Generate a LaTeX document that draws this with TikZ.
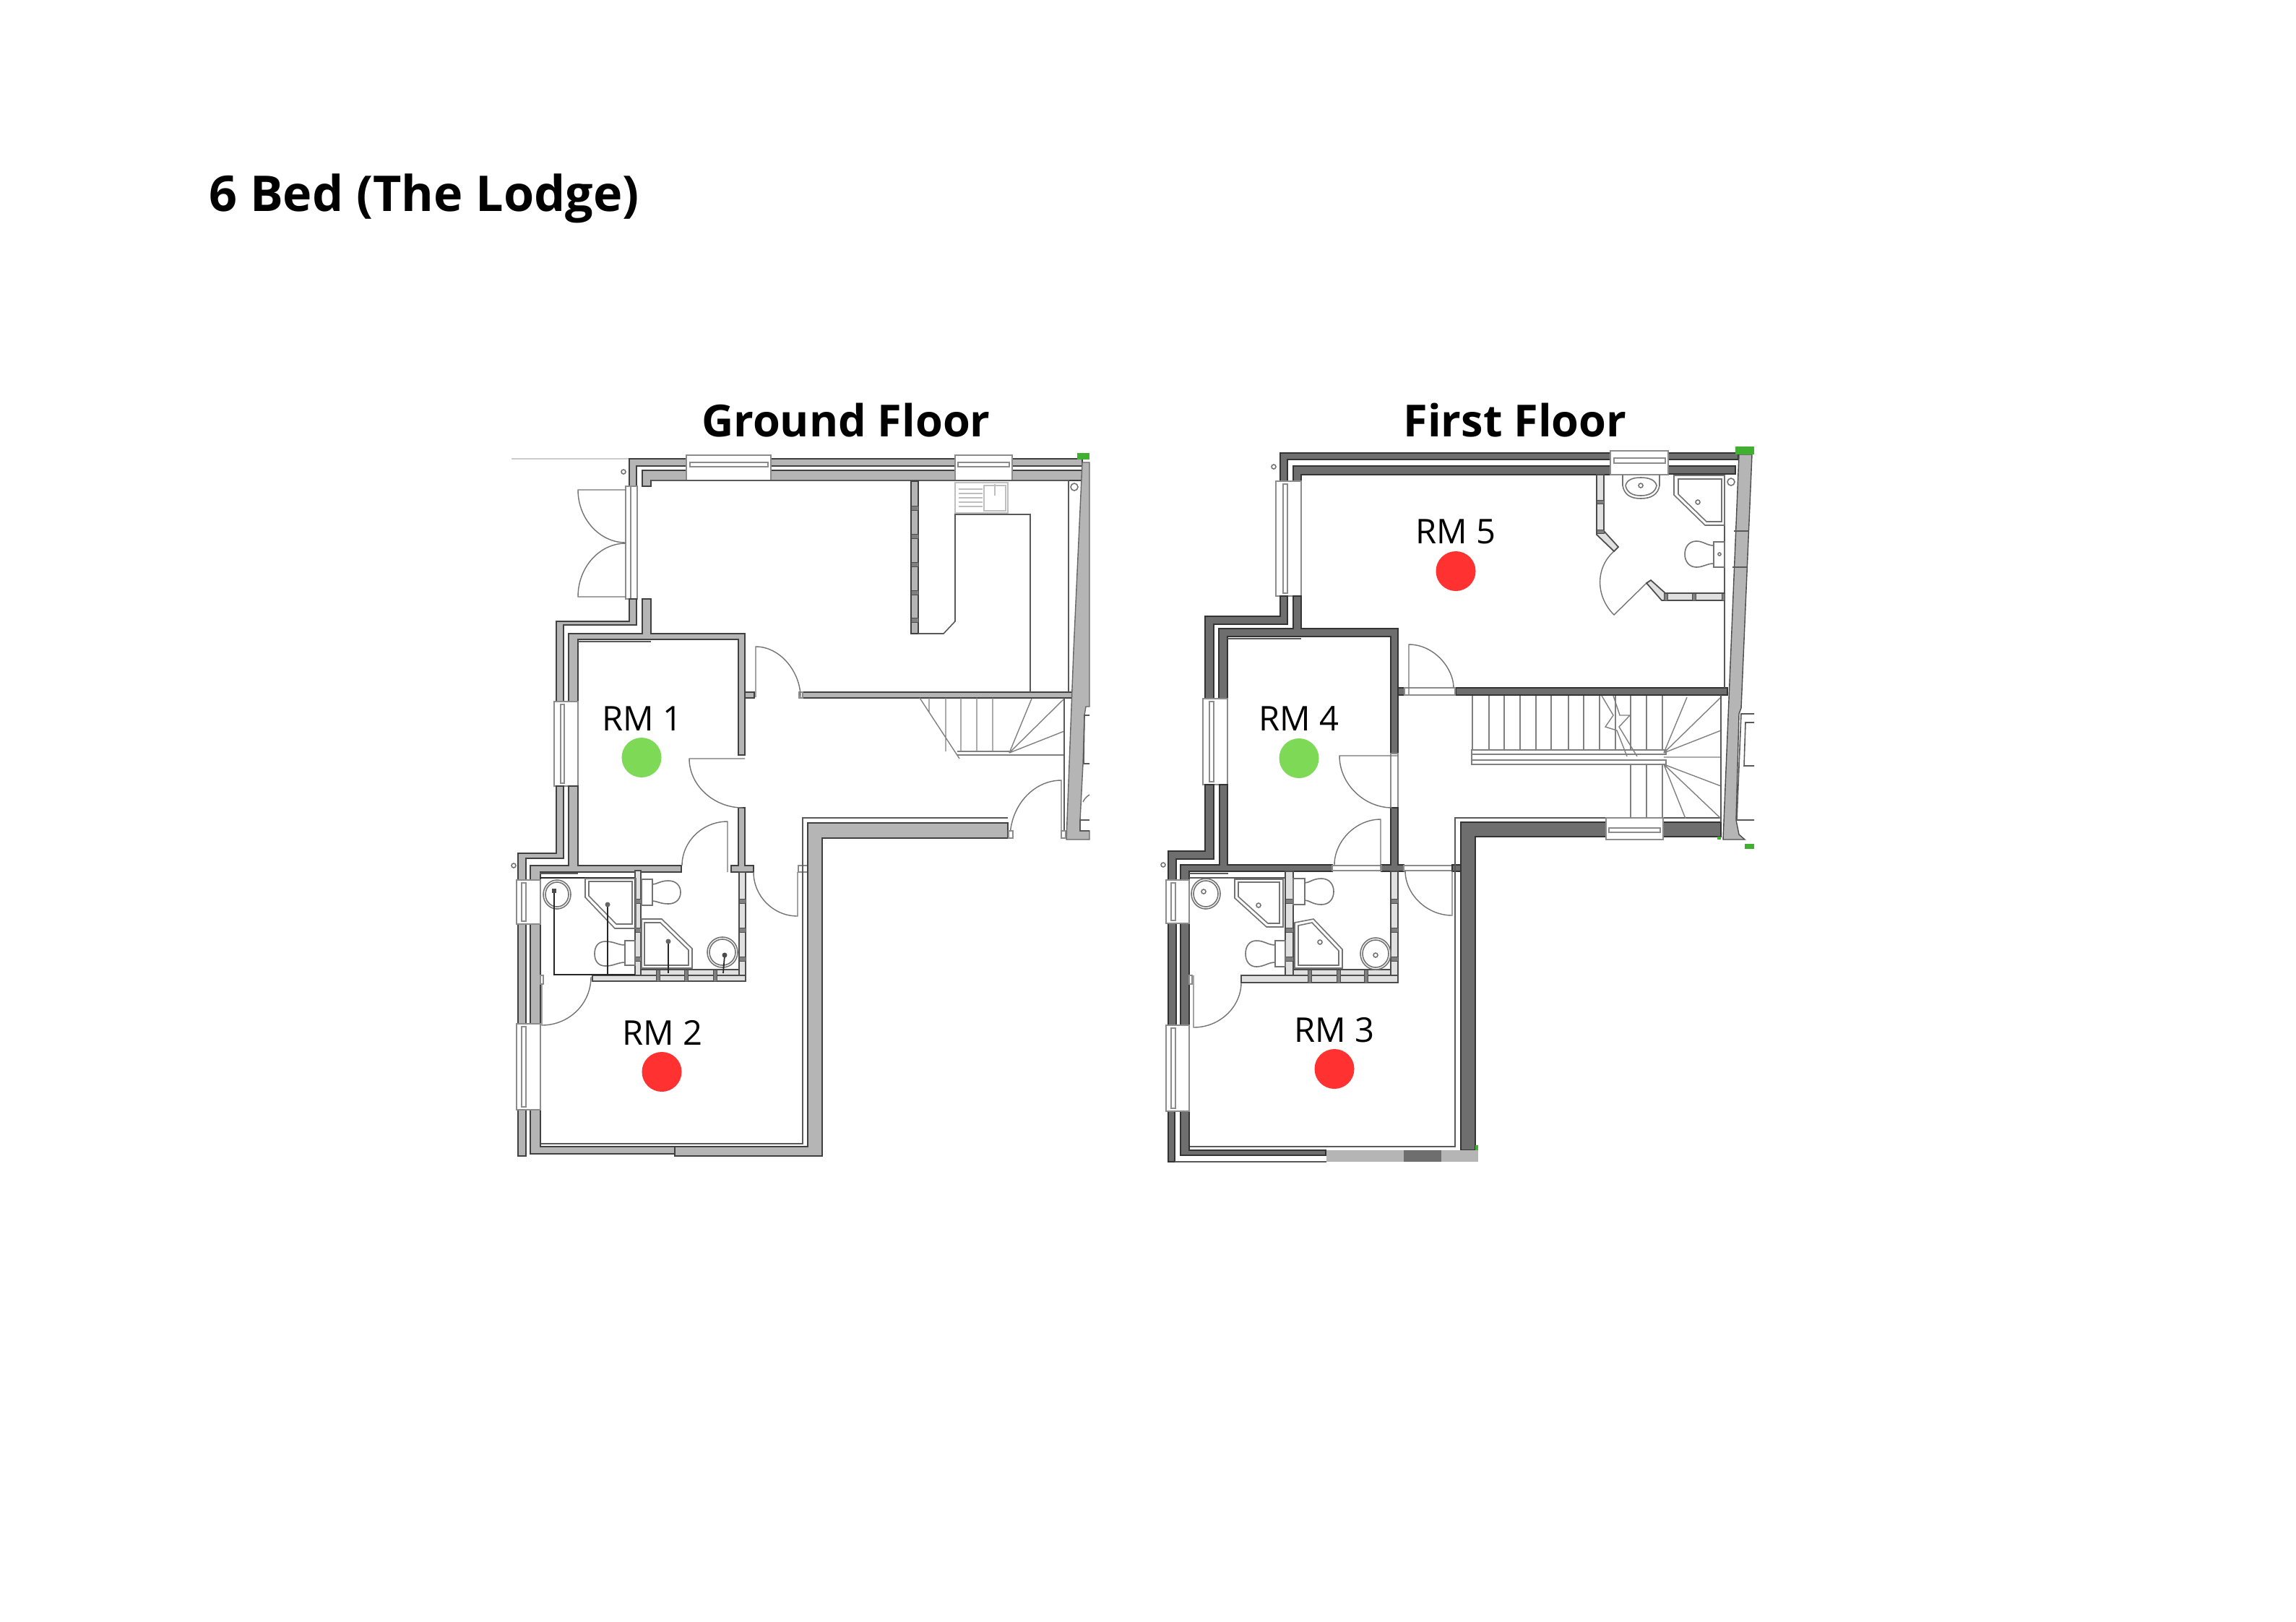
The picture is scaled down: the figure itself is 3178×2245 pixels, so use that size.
\documentclass[tikz,border=0pt]{standalone}
\usepackage{fontspec}
\setmainfont{Open Sans}
\definecolor{lightwall}{HTML}{B5B5B5}
\definecolor{darkwall}{HTML}{6E6E6E}
\definecolor{greendot}{HTML}{7ED957}
\definecolor{reddot}{HTML}{FF3131}
\definecolor{edgegreen}{HTML}{3FB02F}
\begin{document}
\begin{tikzpicture}[x=0.01cm,y=-0.01cm,
  lwall/.style={fill=lightwall,draw=black!75,line width=0.5pt},
  dwall/.style={fill=darkwall,draw=black!80,line width=0.5pt},
  plainfill/.style={fill=lightwall,draw=none},
  glaze/.style={fill=white,draw=black!45,line width=0.4pt},
  door/.style={draw=black!55,line width=0.4pt},
  thin wall/.style={draw=black!65,line width=0.45pt},
  fixture/.style={draw=black!55,line width=0.45pt},
  partition/.style={fill=black!12,draw=black!70,line width=0.5pt},
  stud/.style={fill=black!50,draw=black!70,line width=0.2pt},
  pipe/.style={draw=black!85,line width=0.5pt},
  tread/.style={draw=black!50,line width=0.4pt},
  green edge/.style={fill=edgegreen,draw=none},
  green spot/.style={circle,fill=greendot,minimum size=0.55cm,inner sep=0pt},
  red spot/.style={circle,fill=reddot,minimum size=0.55cm,inner sep=0pt},
  room label/.style={anchor=base,inner sep=0pt,font=\fontsize{13.4}{16}\selectfont},
  floor title/.style={anchor=base,inner sep=0pt,font=\fontsize{17.4}{21}\selectfont\bfseries}]
  \useasboundingbox (0,0) rectangle (3178,2245);

  % ground floor walls
  \draw[draw=black!20,line width=0.5pt] (708,635) -- (870,635);
  \draw[lwall] (871,673) -- (871,635) -- (950,635) -- (950,645) -- (881,645) -- (881,673) -- cycle;
  \draw[lwall] (1067,635) rectangle (1322,645);
  \draw[lwall] (1401,635) rectangle (1498,645);
  \draw[lwall] (889,673) -- (889,651) -- (950,651) -- (950,665) -- (901,665) -- (901,673) -- cycle;
  \draw[lwall] (1067,651) rectangle (1322,665);
  \draw[lwall] (1401,651) rectangle (1498,665);
  \draw[glaze] (950,630) rectangle (1067,665);
  \draw[glaze] (955,640) rectangle (1063,646);
  \draw[glaze] (1322,630) rectangle (1401,665);
  \draw[glaze] (1326,640) rectangle (1397,646);
  \draw[glaze] (866,673) rectangle (882,829);
  \draw[glaze] (873,673) -- (873,829);
  \draw[lwall] (871,829) -- (881,829) -- (881,865) -- (780,865) -- (780,971) -- (770,971) -- (770,860) -- (871,860) -- cycle;
  \draw[lwall] (889,829) -- (901,829) -- (901,877) -- (1031,877) -- (1031,1045) -- (1022,1045) -- (1022,885) -- (901,885) -- (800,885) -- (800,971) -- (787,971) -- (787,877) -- (889,877) -- cycle;
  \draw[thin wall] (800,888) -- (901,888);
  \draw[glaze] (767,971) rectangle (800,1088);
  \draw[glaze] (776,975) rectangle (781,1084);
  \draw[lwall] (770,1088) -- (780,1088) -- (780,1188) -- (728,1188) -- (728,1218) -- (717,1218) -- (717,1181) -- (770,1181) -- cycle;
  \draw[lwall] (787,1088) -- (800,1088) -- (800,1198) -- (943,1198) -- (943,1207) -- (748,1207) -- (748,1218) -- (734,1218) -- (734,1198) -- (787,1198) -- cycle;
  \draw[lwall] (1022,1118) -- (1031,1118) -- (1031,1198) -- (1043,1198) -- (1043,1207) -- (1012,1207) -- (1012,1198) -- (1022,1198) -- cycle;
  \draw[lwall] (1031,958) rectangle (1044,966);
  \draw[lwall] (1111,958) rectangle (1484,966);
  \draw[glaze] (1106,958) rectangle (1111,966);
  \draw[glaze] (1105,1198) rectangle (1118,1207);
  \draw[lwall] (1118,1139) -- (1395,1139) -- (1395,1160) -- (1138,1160) -- (1138,1600) -- (934,1600) -- (934,1587) -- (1118,1587) -- cycle;
  \draw[thin wall] (1395,1132) -- (1111,1132) -- (1111,1583) -- (748,1583);
  \draw[lwall] (734,1536) -- (748,1536) -- (748,1587) -- (934,1587) -- (934,1597) -- (734,1597) -- cycle;
  \draw[lwall] (717,1536) rectangle (728,1600);
  \draw[lwall] (717,1279) rectangle (728,1417);
  \draw[lwall] (734,1279) rectangle (748,1417);
  \draw[glaze] (715,1218) rectangle (748,1279);
  \draw[glaze] (722,1222) rectangle (728,1275);
  \draw[glaze] (715,1417) rectangle (748,1536);
  \draw[glaze] (722,1421) rectangle (728,1532);
  \draw[fixture] (863,653) circle (3);
  \draw[fixture] (711,1198) circle (3);
  \draw[fixture] (1487,674) circle (5);
  % ground floor right wall
  \draw[plainfill,draw=black!60,line width=0.4pt] (1498,640) -- (1508,640) -- (1508,978) -- (1503,978) -- (1501,990) -- (1499,1057) -- (1495,1135) -- (1495,1150) -- (1508,1150) -- (1508,1162) -- (1476,1162) -- (1486,900) -- cycle;
  \draw[thin wall] (1508,990) -- (1501,990) -- (1500,1057) -- (1508,1057);
  \draw[thin wall] (1508,1135) -- (1495,1135) -- (1495,1150) -- (1508,1150);
  \draw[door] (1508,1100) .. controls (1503,1103) and (1501,1106) .. (1499,1110);
  \fill[green edge] (1491,627) rectangle (1508,636);
  % ground floor kitchen
  \draw[thin wall] (901,665) -- (1479,665) -- (1479,958);
  \draw[lwall] (1261,666) rectangle (1271,877);
  \draw[stud] (1261,700) rectangle (1271,706);
  \draw[stud] (1261,739) rectangle (1271,745);
  \draw[stud] (1261,778) rectangle (1271,784);
  \draw[stud] (1261,817) rectangle (1271,823);
  \draw[stud] (1261,855) rectangle (1271,861);
  \draw[thin wall] (1271,877) -- (1306,877) -- (1322,860) -- (1322,712) -- (1426,712) -- (1426,958);
  \draw[draw=black!25,line width=0.4pt] (1322,668) rectangle (1395,710);
  \draw[draw=black!25,line width=0.4pt] (1362,672) rectangle (1392,707);
  \draw[draw=black!25,line width=0.4pt] (1327,677) -- (1360,677) (1327,683) -- (1360,683) (1327,689) -- (1360,689) (1327,695) -- (1360,695) (1327,701) -- (1360,701) (1377,670) -- (1377,686) (1372,672) -- (1383,672);
  % ground floor stairs
  \draw[tread] (1273,966) -- (1328,1050) (1309,966) -- (1309,1040) (1330,966) -- (1330,1040) (1352,966) -- (1352,1040) (1374,966) -- (1374,1040) (1286,966) -- (1286,985);
  \draw[tread] (1325,1040) -- (1397,1040) (1325,1045) -- (1473,1045);
  \draw[tread] (1397,1042) -- (1428,967) (1397,1042) -- (1472,968) (1397,1042) -- (1473,1012);
  \draw[thin wall] (1473,966) -- (1473,1160);
  % ground floor doors
  \draw[door] (866,678) -- (800,678) .. controls (800,718) and (830,751) .. (866,751);
  \draw[door] (866,826) -- (800,826) .. controls (800,785) and (830,752) .. (866,752);
  \draw[door] (1046,965) -- (1046,895) .. controls (1080,895) and (1108,930) .. (1108,965);
  \draw[door] (1031,1050) -- (954,1050) .. controls (954,1087) and (988,1118) .. (1028,1118);
  \draw[door] (1007,1207) -- (1007,1137) .. controls (972,1137) and (944,1165) .. (944,1198);
  \draw[door] (1104,1207) -- (1104,1268) .. controls (1070,1268) and (1043,1240) .. (1043,1207);
  \draw[door] (750,1350) -- (750,1419) .. controls (787,1419) and (818,1390) .. (818,1352);
  \draw[door] (1469,1160) -- (1469,1080) .. controls (1430,1080) and (1398,1116) .. (1398,1160);
  \draw[glaze] (1469,1150) rectangle (1475,1160);
  \draw[glaze] (1396,1150) rectangle (1402,1160);
  \draw[glaze] (748,1350) rectangle (752,1362);
  % ground floor en-suites
  \draw[pipe] (748,1215) -- (880,1215);
  \draw[thin wall] (747,1209) -- (800,1209);
  \draw[partition] (879,1205) rectangle (887,1350);
  \draw[partition] (1023,1207) rectangle (1032,1358);
  \draw[partition] (820,1350) rectangle (1032,1358);
  \draw[partition] (887,1342) rectangle (1023,1350);
  \draw[stud] (879,1244) rectangle (887,1250);
  \draw[stud] (879,1284) rectangle (887,1290);
  \draw[stud] (879,1324) rectangle (887,1330);
  \draw[stud] (1023,1244) rectangle (1032,1250);
  \draw[stud] (1023,1284) rectangle (1032,1290);
  \draw[stud] (1023,1324) rectangle (1032,1330);
  \draw[stud] (908,1342) rectangle (913,1358);
  \draw[stud] (947,1342) rectangle (952,1358);
  \draw[stud] (987,1342) rectangle (992,1358);
  \draw[fixture] (771,1238) ellipse (19 and 20);
  \draw[fixture] (771,1238) ellipse (16 and 17);
  \draw[fixture] (810,1216) -- (880,1216) -- (880,1285) -- (851,1285) -- (810,1242) -- cycle;
  \draw[fixture] (815,1220) -- (875,1220) -- (875,1279) -- (853,1279) -- (815,1240) -- cycle;
  \draw[fixture] (865,1308) .. controls (855,1308) and (850,1303) .. (838,1303) .. controls (828,1303) and (823,1310) .. (823,1320) .. controls (823,1330) and (828,1337) .. (838,1337) .. controls (850,1337) and (855,1332) .. (865,1332);
  \draw[fixture] (865,1302) rectangle (879,1336);
  \draw[fixture] (903,1224) .. controls (909,1224) and (914,1219) .. (925,1219) .. controls (936,1219) and (942,1226) .. (942,1235) .. controls (942,1244) and (936,1251) .. (925,1251) .. controls (914,1251) and (909,1247) .. (903,1247);
  \draw[fixture] (888,1217) rectangle (903,1253);
  \draw[fixture] (888,1272) -- (916,1272) -- (958,1313) -- (958,1340) -- (888,1340) -- cycle;
  \draw[fixture] (892,1277) -- (914,1277) -- (953,1315) -- (953,1336) -- (892,1336) -- cycle;
  \draw[fixture] (1000,1318) ellipse (21 and 21);
  \draw[fixture] (1000,1318) ellipse (18 and 18);
  \draw[pipe] (767,1233) -- (767,1349) -- (879,1349);
  \draw[pipe] (841,1252) -- (841,1349);
  \draw[pipe] (925,1303) -- (925,1347);
  \draw[pipe] (1003,1322) -- (1001,1347);
  \fill[black!70] (764,1230) rectangle (770,1236);
  \fill[black!60] (841,1252) circle (3.5);
  \fill[black!60] (925,1303) circle (3.5);
  \fill[black!70] (1003,1322) circle (3.5);

  % first floor walls
  \draw[dwall] (1772,666) -- (1772,627) -- (2229,627) -- (2229,636) -- (1782,636) -- (1782,666) -- cycle;
  \draw[dwall] (2309,627) rectangle (2406,636);
  \draw[dwall] (1790,666) -- (1790,645) -- (2229,645) -- (2229,657) -- (1801,657) -- (1801,666) -- cycle;
  \draw[dwall] (2309,645) rectangle (2402,656);
  \draw[glaze] (2229,624) rectangle (2309,657);
  \draw[glaze] (2234,634) rectangle (2305,641);
  \draw[glaze] (1766,666) rectangle (1801,825);
  \draw[glaze] (1776,670) rectangle (1782,821);
  \draw[dwall] (1772,825) -- (1782,825) -- (1782,864) -- (1680,864) -- (1680,967) -- (1668,967) -- (1668,853) -- (1772,853) -- cycle;
  \draw[dwall] (1790,825) -- (1801,825) -- (1801,870) -- (1935,870) -- (1935,1043) -- (1925,1043) -- (1925,881) -- (1699,881) -- (1699,967) -- (1687,967) -- (1687,870) -- (1790,870) -- cycle;
  \draw[thin wall] (1699,884) -- (1801,884);
  \draw[glaze] (1665,967) rectangle (1699,1086);
  \draw[glaze] (1674,971) rectangle (1680,1082);
  \draw[dwall] (2015,952) rectangle (2391,962);
  \draw[dwall] (1935,952) rectangle (1944,962);
  \draw[glaze] (1944,952) rectangle (2014,962);
  \draw[glaze] (1925,1043) rectangle (1935,1118);
  \draw[dwall] (1668,1086) -- (1680,1086) -- (1680,1189) -- (1628,1189) -- (1628,1218) -- (1617,1218) -- (1617,1178) -- (1668,1178) -- cycle;
  \draw[dwall] (1688,1086) -- (1699,1086) -- (1699,1197) -- (1844,1197) -- (1844,1206) -- (1646,1206) -- (1646,1218) -- (1634,1218) -- (1634,1197) -- (1688,1197) -- cycle;
  \draw[dwall] (1925,1118) -- (1935,1118) -- (1935,1197) -- (1943,1197) -- (1943,1206) -- (1912,1206) -- (1912,1197) -- (1925,1197) -- cycle;
  \draw[glaze] (1844,1198) rectangle (1912,1205);
  \draw[glaze] (1943,1198) rectangle (2010,1205);
  \draw[dwall] (2010,1197) rectangle (2022,1206);
  \draw[dwall] (2022,1138) -- (2223,1138) -- (2223,1158) -- (2042,1158) -- (2042,1592) -- (2022,1592) -- cycle;
  \draw[dwall] (2302,1138) rectangle (2382,1158);
  \draw[thin wall] (2382,1132) -- (2014,1132) -- (2014,1587) -- (1646,1587);
  \draw[glaze] (2223,1132) rectangle (2302,1162);
  \draw[glaze] (2227,1146) rectangle (2298,1152);
  \draw[dwall] (1634,1538) -- (1646,1538) -- (1646,1592) -- (1835,1592) -- (1835,1599) -- (1634,1599) -- cycle;
  \draw[dwall] (1617,1538) rectangle (1626,1608);
  \draw[thin wall] (1626,1608) -- (1836,1608);
  \fill[lightwall] (1836,1592) rectangle (1943,1608);
  \fill[darkwall] (1943,1592) rectangle (1995,1608);
  \fill[lightwall] (1995,1592) rectangle (2046,1608);
  \draw[dwall] (1617,1278) rectangle (1628,1419);
  \draw[dwall] (1634,1278) rectangle (1646,1419);
  \draw[glaze] (1614,1218) rectangle (1646,1278);
  \draw[glaze] (1621,1222) rectangle (1627,1274);
  \draw[glaze] (1614,1419) rectangle (1646,1538);
  \draw[glaze] (1621,1423) rectangle (1627,1534);
  \draw[fixture] (1763,646) circle (3);
  \draw[fixture] (1610,1197) circle (3);
  \draw[fixture] (2396,667) circle (5);
  % first floor right wall
  \draw[plainfill,draw=black!70,line width=0.4pt] (2407,629) -- (2425,629) -- (2410,980) -- (2407,988) -- (2403,1135) -- (2407,1155) -- (2415,1162) -- (2385,1162) -- cycle;
  \draw[thin wall] (2400,735) -- (2420,735) (2398,785) -- (2418,785);
  \draw[thin wall] (2428,988) -- (2410,988) -- (2404,1135) -- (2428,1135) (2428,1000) -- (2416,1000) -- (2414,1060) -- (2428,1060);
  \fill[green edge] (2402,618) rectangle (2428,629);
  \fill[green edge] (2415,1168) rectangle (2428,1175);
  \fill[green edge] (2377,1158) rectangle (2382,1162);
  \fill[green edge] (2042,1585) rectangle (2046,1592);
  % first floor stairs
  \draw[tread] (2038,963) -- (2038,1038) (2061,963) -- (2061,1038) (2082,963) -- (2082,1038) (2104,963) -- (2104,1038) (2126,963) -- (2126,1038) (2147,963) -- (2147,1038) (2171,963) -- (2171,1038) (2192,963) -- (2192,1038) (2214,963) -- (2214,1038) (2236,963) -- (2236,1038) (2257,963) -- (2257,1038) (2279,963) -- (2279,1038) (2301,963) -- (2301,1038);
  \draw[tread] (2257,1058) -- (2257,1132) (2279,1058) -- (2279,1132) (2301,1058) -- (2301,1132);
  \draw[tread] (2037,1038) rectangle (2306,1044);
  \draw[tread] (2037,1052) rectangle (2306,1058);
  \draw[tread] (2037,1038) -- (2037,1058);
  \draw[tread] (2217,963) -- (2233,990) -- (2222,1006) -- (2238,1011) -- (2252,1047) (2233,963) -- (2242,990) -- (2256,990) -- (2241,1006) -- (2266,1047);
  \draw[tread] (2303,1042) -- (2335,965) (2303,1042) -- (2382,965) (2303,1042) -- (2382,1011) (2303,1048) -- (2382,1048);
  \draw[tread] (2303,1058) -- (2382,1088) (2303,1058) -- (2382,1133) (2303,1058) -- (2333,1133);
  \draw[thin wall] (2382,962) -- (2382,1138);
  % first floor doors
  \draw[door] (1950,961) -- (1950,892) .. controls (1985,892) and (2012,925) .. (2012,952);
  \draw[door] (1935,1046) -- (1854,1046) .. controls (1854,1085) and (1888,1118) .. (1927,1118);
  \draw[door] (1911,1205) -- (1911,1134) .. controls (1876,1134) and (1847,1165) .. (1847,1197);
  \draw[door] (2010,1205) -- (2010,1267) .. controls (1975,1267) and (1945,1238) .. (1945,1205);
  \draw[door] (1652,1350) -- (1652,1422) .. controls (1690,1422) and (1718,1392) .. (1718,1360);
  \draw[door] (2279,807) -- (2234,851) .. controls (2208,825) and (2208,785) .. (2235,762);
  \draw[glaze] (1646,1350) rectangle (1650,1362);
  % first floor en-suites
  \draw[thin wall] (1646,1215) -- (1780,1215);
  \draw[thin wall] (1646,1209) -- (1700,1209);
  \draw[partition] (1779,1206) rectangle (1790,1360);
  \draw[partition] (1925,1206) rectangle (1935,1360);
  \draw[partition] (1718,1350) rectangle (1935,1360);
  \draw[partition] (1790,1342) rectangle (1925,1350);
  \draw[stud] (1779,1244) rectangle (1790,1250);
  \draw[stud] (1779,1284) rectangle (1790,1290);
  \draw[stud] (1779,1324) rectangle (1790,1330);
  \draw[stud] (1925,1244) rectangle (1935,1250);
  \draw[stud] (1925,1284) rectangle (1935,1290);
  \draw[stud] (1925,1324) rectangle (1935,1330);
  \draw[stud] (1810,1342) rectangle (1815,1360);
  \draw[stud] (1850,1342) rectangle (1855,1360);
  \draw[stud] (1888,1342) rectangle (1893,1360);
  \draw[fixture] (1669,1237) ellipse (20 and 21);
  \draw[fixture] (1669,1237) ellipse (17 and 18);
  \draw[fixture] (1709,1217) -- (1776,1217) -- (1776,1283) -- (1753,1283) -- (1709,1243) -- cycle;
  \draw[fixture] (1714,1221) -- (1771,1221) -- (1771,1278) -- (1755,1278) -- (1714,1241) -- cycle;
  \draw[fixture] (1742,1253) circle (3);
  \draw[fixture] (1765,1308) .. controls (1755,1308) and (1750,1302) .. (1739,1302) .. controls (1729,1302) and (1724,1310) .. (1724,1320) .. controls (1724,1330) and (1729,1338) .. (1739,1338) .. controls (1750,1338) and (1755,1332) .. (1765,1332);
  \draw[fixture] (1765,1302) rectangle (1779,1338);
  \draw[fixture] (1806,1222) .. controls (1812,1222) and (1817,1216) .. (1829,1216) .. controls (1840,1216) and (1846,1224) .. (1846,1234) .. controls (1846,1244) and (1840,1252) .. (1829,1252) .. controls (1817,1252) and (1812,1246) .. (1806,1246);
  \draw[fixture] (1790,1216) rectangle (1806,1252);
  \draw[fixture] (1792,1277) -- (1818,1272) -- (1858,1314) -- (1858,1340) -- (1792,1340) -- cycle;
  \draw[fixture] (1797,1281) -- (1816,1277) -- (1853,1316) -- (1853,1336) -- (1797,1336) -- cycle;
  \draw[fixture] (1827,1304) circle (3);
  \draw[fixture] (1904,1320) ellipse (21 and 22);
  \draw[fixture] (1904,1320) ellipse (18 and 19);
  \draw[fixture] (1904,1322) circle (3);
  \draw[fixture] (1666,1234) circle (3);
  % first floor upper en-suite
  \draw[thin wall] (2387,657) -- (2387,952);
  \draw[partition] (2210,657) -- (2220,657) -- (2220,735) -- (2240,757) -- (2234,763) -- (2210,740) -- cycle;
  \draw[stud] (2210,692) rectangle (2220,697);
  \draw[stud] (2210,733) rectangle (2220,738);
  \draw[partition] (2279,807) -- (2285,803) -- (2305,821) -- (2387,821) -- (2387,831) -- (2300,831) -- cycle;
  \draw[stud] (2303,821) rectangle (2308,831);
  \draw[stud] (2342,821) rectangle (2347,831);
  \draw[stud] (2383,821) rectangle (2387,831);
  \draw[fixture] (2246,657) -- (2246,672) .. controls (2248,684) and (2256,690) .. (2271,690) .. controls (2286,690) and (2295,684) .. (2297,672) -- (2297,657);
  \draw[fixture] (2250,672) .. controls (2252,682) and (2260,686) .. (2271,686) .. controls (2282,686) and (2291,682) .. (2293,672) .. controls (2291,664) and (2282,661) .. (2271,661) .. controls (2260,661) and (2252,664) .. (2250,672);
  \draw[fixture] (2271,672) circle (3);
  \draw[fixture] (2317,658) -- (2387,658) -- (2387,727) -- (2360,727) -- (2317,685) -- cycle;
  \draw[fixture] (2323,663) -- (2383,663) -- (2383,722) -- (2362,722) -- (2323,684) -- cycle;
  \draw[fixture] (2350,695) circle (3);
  \draw[fixture] (2372,755) .. controls (2362,755) and (2358,749) .. (2348,749) .. controls (2338,749) and (2332,757) .. (2332,767) .. controls (2332,777) and (2338,785) .. (2348,785) .. controls (2358,785) and (2362,780) .. (2372,780);
  \draw[fixture] (2372,750) rectangle (2387,785);
  \draw[fixture] (2380,767) circle (2);

  \node[floor title,font=\fontsize{19.4}{23}\selectfont\bfseries] (page title) at (587,292.5) {6 Bed (The Lodge)};
  \node[floor title] (ground title) at (1171,604) {Ground Floor};
  \node[floor title] (first title) at (2097,604) {First Floor};

  \node[green spot] (spot 1) at (888,1048.5) {};
  \node[red spot] (spot 2) at (916,1483.5) {};
  \node[red spot] (spot 3) at (1847,1479.5) {};
  \node[green spot] (spot 4) at (1798,1049.5) {};
  \node[red spot] (spot 5) at (2015,790.5) {};
  \node[room label] (room 1) at (889,1011) {RM 1};
  \node[room label] (room 2) at (917,1446.5) {RM 2};
  \node[room label] (room 3) at (1847,1442.5) {RM 3};
  \node[room label] (room 4) at (1798,1011.5) {RM 4};
  \node[room label] (room 5) at (2015,752.5) {RM 5};
\end{tikzpicture}
\end{document}
